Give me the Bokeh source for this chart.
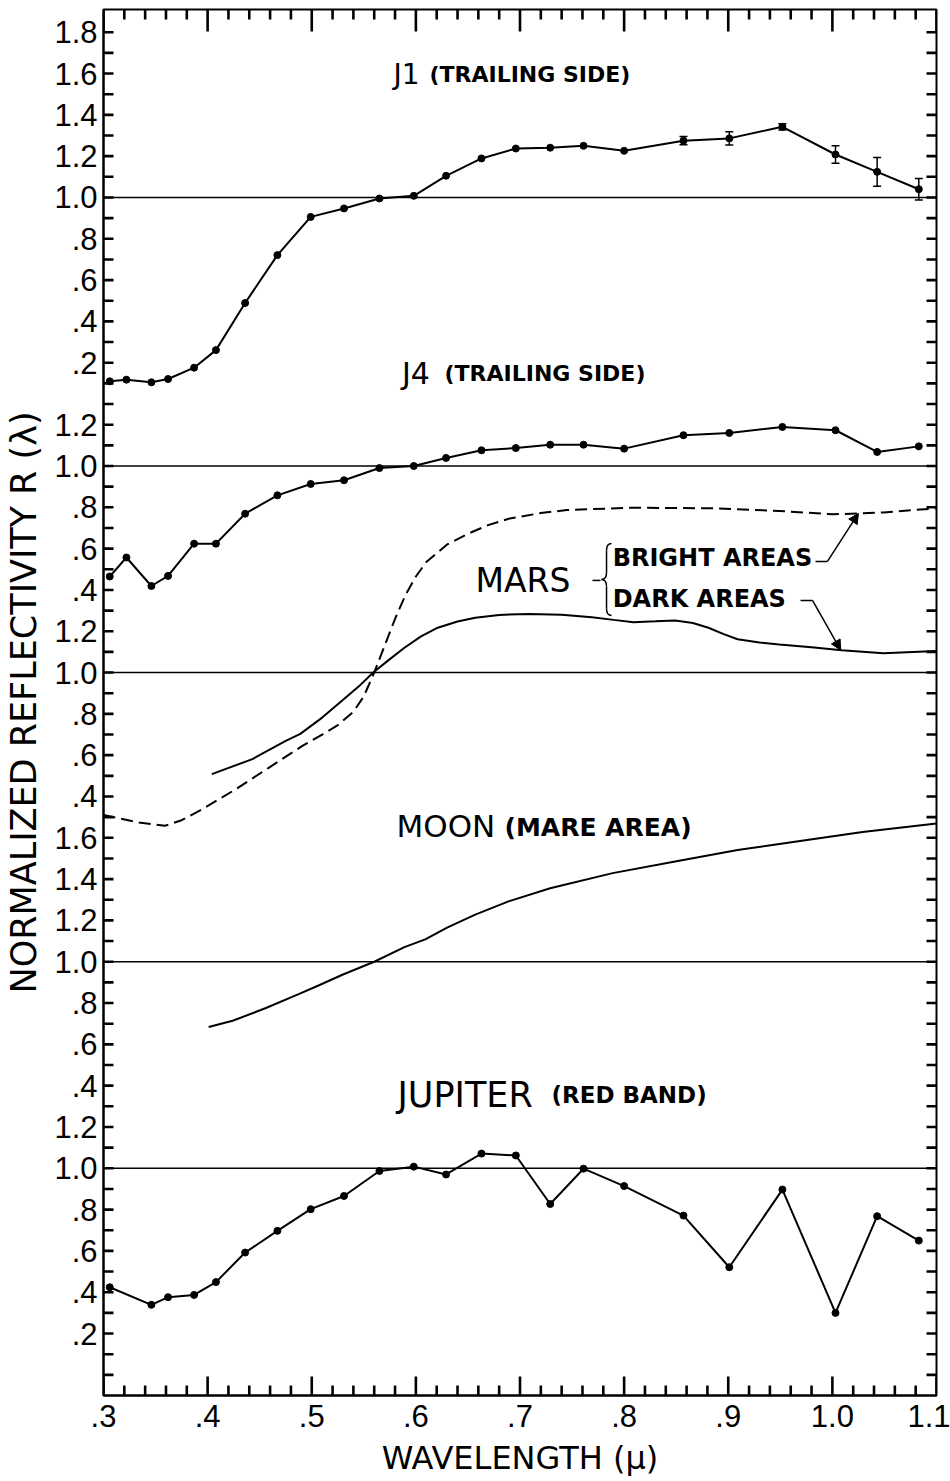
import numpy as np
from bokeh.plotting import figure
from bokeh.models import (Range1d, FixedTicker, Span, Whisker, TeeHead,
                          Arrow, NormalHead, Label, ColumnDataSource, CustomJSTickFormatter)
from bokeh.embed import file_html
from bokeh.resources import INLINE

# ---------------- data ----------------
# filter wavelengths (microns)
wl = [0.306, 0.322, 0.346, 0.362, 0.387, 0.408, 0.436, 0.467, 0.499, 0.531, 0.565, 0.598,
      0.629, 0.663, 0.696, 0.729, 0.761, 0.800, 0.857, 0.901, 0.952, 1.003, 1.043, 1.083]

j1_r = [0.110, 0.118, 0.105, 0.121, 0.176, 0.261, 0.489, 0.721, 0.906, 0.947, 0.995, 1.008,
        1.105, 1.189, 1.237, 1.241, 1.250, 1.226, 1.275, 1.286, 1.342, 1.208, 1.124, 1.040]
j1_err_wl = [0.857, 0.901, 0.952, 1.003, 1.043, 1.083]
j1_err_r = [1.275, 1.286, 1.342, 1.208, 1.124, 1.040]
j1_err = [0.020, 0.032, 0.015, 0.042, 0.070, 0.052]

j4_r = [0.465, 0.557, 0.419, 0.468, 0.624, 0.624, 0.769, 0.858, 0.913, 0.931, 0.990, 1.000,
        1.039, 1.076, 1.087, 1.103, 1.103, 1.084, 1.149, 1.160, 1.189, 1.173, 1.068, 1.095]

mars_bright_wl = [0.300, 0.334, 0.359, 0.375, 0.395, 0.427, 0.459, 0.491, 0.510, 0.525, 0.540,
                  0.550, 0.560, 0.570, 0.580, 0.590, 0.600, 0.610, 0.630, 0.650, 0.670, 0.690,
                  0.720, 0.745, 0.809, 0.889, 0.949, 1.001, 1.049, 1.100]
mars_bright_r = [0.310, 0.274, 0.258, 0.285, 0.339, 0.435, 0.540, 0.645, 0.700, 0.745, 0.810,
                 0.885, 1.000, 1.130, 1.260, 1.375, 1.465, 1.535, 1.620, 1.672, 1.715, 1.746,
                 1.772, 1.787, 1.798, 1.795, 1.782, 1.766, 1.775, 1.795]

mars_dark_wl = [0.404, 0.443, 0.475, 0.489, 0.510, 0.529, 0.545, 0.559, 0.575, 0.589, 0.605,
                0.621, 0.640, 0.657, 0.680, 0.709, 0.740, 0.769, 0.790, 0.809, 0.830, 0.849,
                0.866, 0.881, 0.895, 0.909, 0.930, 0.949, 0.980, 1.009, 1.049, 1.100]
mars_dark_r = [0.508, 0.581, 0.669, 0.703, 0.782, 0.864, 0.932, 1.000, 1.065, 1.120, 1.175,
               1.217, 1.247, 1.265, 1.279, 1.284, 1.280, 1.268, 1.255, 1.244, 1.248, 1.252,
               1.240, 1.217, 1.187, 1.161, 1.145, 1.136, 1.122, 1.108, 1.093, 1.104]

moon_wl = [0.401, 0.424, 0.456, 0.488, 0.507, 0.530, 0.560, 0.589, 0.609, 0.630, 0.657, 0.689,
           0.729, 0.789, 0.849, 0.909, 0.969, 1.029, 1.100]
moon_r = [0.684, 0.714, 0.776, 0.844, 0.886, 0.938, 1.000, 1.071, 1.108, 1.165, 1.228, 1.292,
          1.356, 1.429, 1.485, 1.541, 1.585, 1.628, 1.669]

jup_wl = [0.306, 0.346, 0.362, 0.387, 0.408, 0.436, 0.467, 0.499, 0.531, 0.565, 0.598,
          0.629, 0.663, 0.696, 0.729, 0.761, 0.800, 0.857, 0.901, 0.952, 1.003, 1.043, 1.083]
jup_r = [0.424, 0.339, 0.376, 0.387, 0.449, 0.592, 0.697, 0.802, 0.866, 0.987, 1.008,
         0.970, 1.071, 1.062, 0.827, 0.998, 0.914, 0.771, 0.521, 0.897, 0.300, 0.768, 0.650]

# vertical offset of each stacked panel (R units on the shared axis)
off_j1, off_j4, off_mars, off_moon, off_jup = 4.7, 3.4, 2.4, 1.0, 0.0

# tick labels of the shared y axis: (panel offset, labelled values)
y_label_sets = [
    (off_j1, [1.8, 1.6, 1.4, 1.2, 1.0, 0.8, 0.6, 0.4, 0.2]),
    (off_j4, [1.2, 1.0, 0.8, 0.6, 0.4]),
    (off_mars, [1.2, 1.0, 0.8, 0.6, 0.4]),
    (off_moon, [1.6, 1.4, 1.2, 1.0, 0.8, 0.6, 0.4]),
    (off_jup, [1.2, 1.0, 0.8, 0.6, 0.4, 0.2]),
]
x_tick_vals = [0.3, 0.4, 0.5, 0.6, 0.7, 0.8, 0.9, 1.0, 1.1]
x_tick_text = [".3", ".4", ".5", ".6", ".7", ".8", ".9", "1.0", "1.1"]

# ---------------- figure ----------------
W, H = 950, 1481
ML, MR, MT, MB = 103, 14, 9, 86
X0, X1 = 0.3, 1.1
Y0, Y1 = -0.1, 6.61
XPX = (X1 - X0) / (W - ML - MR)     # data units per pixel
YPX = (Y1 - Y0) / (H - MT - MB)

p = figure(width=W, height=H, output_backend="svg", toolbar_location=None,
           x_range=Range1d(X0, X1), y_range=Range1d(Y0, Y1),
           min_border_left=ML, min_border_right=MR, min_border_top=MT, min_border_bottom=MB,
           background_fill_color="white", border_fill_color="white")
p.grid.visible = False
p.outline_line_color = "black"
p.outline_line_width = 2

def style_axis(ax):
    ax.axis_line_color = "black"
    ax.axis_line_width = 2
    ax.major_tick_in = 0
    ax.major_tick_out = 0
    ax.minor_tick_in = 0
    ax.minor_tick_out = 0
    ax.major_label_text_font = "Liberation Sans"
    ax.major_label_text_font_size = "31px"
    ax.major_label_text_color = "black"

x_major = [round(v, 2) for v in x_tick_vals]
x_minor = [round(0.3 + 0.02 * i, 2) for i in range(41)]
y_all = [round(0.1 * i, 2) for i in range(66)]
y_keys, y_texts = [], []
for off, vals in y_label_sets:
    for v in vals:
        y_keys.append(f"{round(off + v, 2):.2f}")
        y_texts.append(("%.1f" % v).lstrip("0") if v < 1 else "%.1f" % v)
y_major = [float(k) for k in y_keys]

fmt_code = "const i = keys.indexOf(tick.toFixed(2)); return i < 0 ? '' : texts[i];"

bottom = p.xaxis[0]
bottom.ticker = FixedTicker(ticks=x_major)
bottom.formatter = CustomJSTickFormatter(
    args=dict(keys=[f"{v:.2f}" for v in x_major], texts=x_tick_text), code=fmt_code)
style_axis(bottom)
bottom.major_label_standoff = 9
bottom.axis_label = "WAVELENGTH (\u03bc)"
bottom.axis_label_text_font = "DejaVu Sans"
bottom.axis_label_text_font_size = "32px"
bottom.axis_label_text_font_style = "normal"
bottom.axis_label_text_color = "black"
bottom.axis_label_standoff = 9

left = p.yaxis[0]
left.ticker = FixedTicker(ticks=y_major)
left.formatter = CustomJSTickFormatter(args=dict(keys=y_keys, texts=y_texts), code=fmt_code)
style_axis(left)
left.major_label_standoff = 6
left.axis_label = "NORMALIZED REFLECTIVITY R (\u03bb)"
left.axis_label_text_font = "DejaVu Sans"
left.axis_label_text_font_size = "35px"
left.axis_label_text_font_style = "normal"
left.axis_label_text_color = "black"
left.axis_label_standoff = 7

# inward tick marks on all four sides of the frame, drawn as thin filled bars
TW = 1.3   # half tick thickness, px
q_l, q_r, q_b, q_t = [], [], [], []
def ticks_h(xs, y_edge, length_px, down):
    for x in xs:
        q_l.append(x - TW * XPX)
        q_r.append(x + TW * XPX)
        if down:
            q_b.append(y_edge - length_px * YPX)
            q_t.append(y_edge)
        else:
            q_b.append(y_edge)
            q_t.append(y_edge + length_px * YPX)

def ticks_v(ys, x_edge, length_px, leftward):
    for y in ys:
        q_b.append(y - TW * YPX)
        q_t.append(y + TW * YPX)
        if leftward:
            q_l.append(x_edge - length_px * XPX)
            q_r.append(x_edge)
        else:
            q_l.append(x_edge)
            q_r.append(x_edge + length_px * XPX)

x_short = [v for v in x_minor if v not in x_major]
ticks_h(x_short, Y0, 10, down=False)
ticks_h(x_major, Y0, 19, down=False)
ticks_h(x_short, Y1, 10, down=True)
ticks_h(x_major, Y1, 22, down=True)
ticks_v(y_all, X0, 10, leftward=False)
ticks_v(y_all, X1, 10, leftward=True)
p.quad(left=q_l, right=q_r, bottom=q_b, top=q_t, fill_color="black", line_color=None)

# unit reflectance lines for each panel
for off in (off_j1, off_j4, off_mars, off_moon, off_jup):
    p.add_layout(Span(location=off + 1.0, dimension="width", line_color="black", line_width=1.6))

def shifted(vals, off):
    return [v + off for v in vals]

# point spectra
for xs, ys, off in ((wl, j1_r, off_j1), (wl, j4_r, off_j4), (jup_wl, jup_r, off_jup)):
    p.line(xs, shifted(ys, off), line_color="black", line_width=2)
    p.scatter(xs, shifted(ys, off), marker="circle", size=7, fill_color="black", line_color="black")

# error bars on J1
err_src = ColumnDataSource(dict(
    x=j1_err_wl,
    lo=[r - e + off_j1 for r, e in zip(j1_err_r, j1_err)],
    hi=[r + e + off_j1 for r, e in zip(j1_err_r, j1_err)]))
p.add_layout(Whisker(source=err_src, base="x", lower="lo", upper="hi", dimension="height",
                     line_color="black", line_width=1.5,
                     lower_head=TeeHead(size=8, line_color="black", line_width=1.5),
                     upper_head=TeeHead(size=8, line_color="black", line_width=1.5)))

# continuous spectra
p.line(mars_bright_wl, shifted(mars_bright_r, off_mars), line_color="black", line_width=2,
       line_dash="12 6")
p.line(mars_dark_wl, shifted(mars_dark_r, off_mars), line_color="black", line_width=2)
p.line(moon_wl, shifted(moon_r, off_moon), line_color="black", line_width=2)

# ---------------- labels ----------------
def text(x, y, s, size, bold=False, align="left"):
    p.add_layout(Label(x=x, y=y, text=s, text_font="DejaVu Sans", text_font_size=f"{size}px",
                       text_font_style="bold" if bold else "normal", text_color="black",
                       text_align=align, text_baseline="middle"))

text(0.591, off_j1 + 1.595, "J1", 28, align="center")
text(0.613, off_j1 + 1.595, "(TRAILING SIDE)", 22, bold=True)
text(0.600, off_j4 + 1.450, "J4", 30, align="center")
text(0.6275, off_j4 + 1.450, "(TRAILING SIDE)", 22, bold=True)

mars_lab_y = off_mars + 1.446
text(0.6573, mars_lab_y, "MARS", 33)
bright_y = off_mars + 1.555
dark_y = off_mars + 1.358
text(0.789, bright_y, "BRIGHT AREAS", 24, bold=True)
text(0.789, dark_y, "DARK AREAS", 24, bold=True)

text(0.5814, off_moon + 1.657, "MOON", 31)
text(0.6851, off_moon + 1.650, "(MARE AREA)", 25, bold=True)
text(0.5824, off_jup + 1.357, "JUPITER", 35)
text(0.7302, off_jup + 1.357, "(RED BAND)", 23, bold=True)

# dash and brace joining MARS to the two area labels
p.line([0.7696, 0.7773], [mars_lab_y, mars_lab_y], line_color="black", line_width=1.5)
bx, by = 0.7783, mars_lab_y + 0.004
def pt(dx, dy):
    return bx + dx * XPX, by - dy * YPX
curves = [((10, -36), (5, -29), (5, -36)), ((5, -7), (0, 0), (5, 0)),
          ((0, 0), (5, 7), (5, 0)), ((5, 29), (10, 36), (5, 36))]
for a, b, c in curves:
    (x0, y0), (x1, y1), (cx, cy) = pt(*a), pt(*b), pt(*c)
    p.quadratic(x0=[x0], y0=[y0], x1=[x1], y1=[y1], cx=[cx], cy=[cy],
                line_color="black", line_width=1.5)
for a, b in (((5, -29), (5, -7)), ((5, 7), (5, 29))):
    (x0, y0), (x1, y1) = pt(*a), pt(*b)
    p.line([x0, x1], [y0, y1], line_color="black", line_width=1.5)

# leader arrows from the area labels to their curves
def leader(x_stub0, x_stub1, y_stub, x_tip, curve_wl, curve_r):
    y_tip = float(np.interp(x_tip, curve_wl, curve_r)) + off_mars
    p.line([x_stub0, x_stub1], [y_stub, y_stub], line_color="black", line_width=1.5)
    p.add_layout(Arrow(x_start=x_stub1, y_start=y_stub, x_end=x_tip, y_end=y_tip,
                       line_color="black", line_width=1.5,
                       end=NormalHead(size=10, fill_color="black", line_color="black")))

leader(0.9838, 0.9953, off_mars + 1.538, 1.025, mars_bright_wl, mars_bright_r)
leader(0.9694, 0.9809, off_mars + 1.349, 1.008, mars_dark_wl, mars_dark_r)

open("out.html", "w").write(file_html(p, INLINE))
